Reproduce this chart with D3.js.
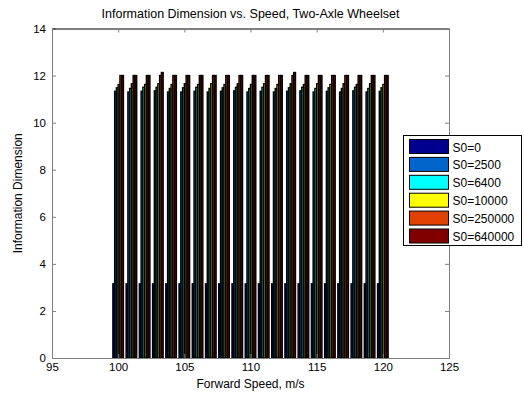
<!DOCTYPE html>
<html>
<head lang="en">
    <meta charset="UTF-8">
    <title>Information Dimension vs. Speed</title>
    <script src="https://cdnjs.cloudflare.com/ajax/libs/d3/7.8.5/d3.min.js" charset="utf-8"></script>
</head>

<body style="margin: 0; background: white">
<div id="chart"></div>
<script>

var speeds = d3.range(100, 121);
var seriesNames = ['S0=0', 'S0=2500', 'S0=6400', 'S0=10000', 'S0=250000', 'S0=640000'];
var seriesColors = ['#00008f', '#0066cc', '#00ffff', '#ffff00', '#e04000', '#800000'];

// values, one array per series (speeds 100..120)
var s0 = [3.15, 3.15, 3.15, 3.15, 3.15, 3.15, 3.15, 3.15, 3.15, 3.15, 3.15, 3.15, 3.15, 3.15, 3.15, 3.15, 3.15, 3.15, 3.15, 3.15, 3.15];
var s2500 = [11.33, 11.30, 11.33, 11.35, 11.30, 11.30, 11.33, 11.30, 11.33, 11.35, 11.30, 11.33, 11.30, 11.33, 11.35, 11.30, 11.33, 11.30, 11.35, 11.30, 11.33];
var s6400 = [11.48, 11.45, 11.50, 11.50, 11.45, 11.48, 11.50, 11.45, 11.48, 11.50, 11.45, 11.50, 11.45, 11.48, 11.50, 11.45, 11.48, 11.45, 11.50, 11.45, 11.48];
var s10000 = [11.62, 11.65, 11.62, 11.65, 11.62, 11.65, 11.62, 11.65, 11.62, 11.65, 11.62, 11.65, 11.62, 11.65, 11.62, 11.65, 11.62, 11.65, 11.62, 11.65, 11.62];
var s250000 = [12.0, 12.0, 12.0, 12.0, 12.0, 12.0, 12.0, 12.0, 12.0, 12.0, 12.0, 12.0, 12.0, 12.0, 12.0, 12.0, 12.0, 12.0, 12.0, 12.0, 12.0];
var s640000 = [12.0, 12.0, 12.0, 12.13, 12.0, 12.0, 12.0, 12.0, 12.0, 12.0, 12.0, 12.0, 12.0, 12.13, 12.0, 12.0, 12.0, 12.0, 12.0, 12.0, 12.0];
var series = [s0, s2500, s6400, s10000, s250000, s640000];

var xTicks = [95, 100, 105, 110, 115, 120, 125];
var yTicks = [0, 2, 4, 6, 8, 10, 12, 14];

var svgWidth = 524, svgHeight = 394;
var margin = {top: 28.5, bottom: 36, right: 75, left: 52};
var w = svgWidth - margin.left - margin.right;
var h = svgHeight - margin.top - margin.bottom;
var font = 'Arial, "Liberation Sans", sans-serif';

var svg = d3.select('#chart').append('svg')
    .attr('width', svgWidth)
    .attr('height', svgHeight)
    .style('font-family', font);

var g = svg.append('g').attr('transform', 'translate(' + margin.left + ',' + margin.top + ')');

var x = d3.scaleLinear().domain([95, 125]).range([0, w]);
var y = d3.scaleLinear().domain([0, 14]).range([h, 0]);

// grouped bars, MATLAB style: group width 0.8, thick black edges swallow most of the fill
var groupWidth = 0.8, n = series.length;
var barW = groupWidth / n;

series.forEach(function (vals, si) {
    g.append('g').selectAll('rect')
        .data(vals)
        .enter().append('rect')
        .attr('x', function (d, i) { return x(speeds[i] - groupWidth / 2 + si * barW); })
        .attr('width', x(95 + barW) - x(95))
        .attr('y', function (d) { return y(d); })
        .attr('height', function (d) { return h - y(d); })
        .attr('fill', seriesColors[si])
        .attr('stroke', 'black')
        .attr('stroke-width', 1.4);
});

// axes with inward ticks on all four sides
var xAxis = g.append('g').attr('transform', 'translate(0,' + h + ')')
    .call(d3.axisBottom(x).tickValues(xTicks).tickSizeInner(-4).tickSizeOuter(0).tickPadding(5));
var yAxis = g.append('g')
    .call(d3.axisLeft(y).tickValues(yTicks).tickSizeInner(-4).tickSizeOuter(0).tickPadding(6));
var xTop = g.append('g')
    .call(d3.axisTop(x).tickValues(xTicks).tickSizeInner(-4).tickSizeOuter(0).tickFormat(''));
var yRight = g.append('g').attr('transform', 'translate(' + w + ',0)')
    .call(d3.axisRight(y).tickValues(yTicks).tickSizeInner(-4).tickSizeOuter(0).tickFormat(''));

[xAxis, yAxis, xTop, yRight].forEach(function (a) {
    a.selectAll('text').attr('font-size', 11.5).attr('fill', '#000').style('font-family', font);
    a.select('.domain').attr('stroke', '#808080');
    a.selectAll('.tick line').attr('stroke', '#808080');
});
xTop.select('.domain').attr('stroke', '#000');

// titles
svg.append('text')
    .attr('x', margin.left + w / 2).attr('y', 18)
    .attr('text-anchor', 'middle').attr('font-size', 12.5)
    .text('Information Dimension vs. Speed, Two-Axle Wheelset');
svg.append('text')
    .attr('x', margin.left + w / 2).attr('y', 388)
    .attr('text-anchor', 'middle').attr('font-size', 12)
    .text('Forward Speed, m/s');
svg.append('text')
    .attr('transform', 'translate(22,' + (margin.top + h / 2) + ') rotate(-90)')
    .attr('text-anchor', 'middle').attr('font-size', 12)
    .text('Information Dimension');

// legend
var legend = svg.append('g').attr('transform', 'translate(403.5,135.5)');
legend.append('rect')
    .attr('width', 118).attr('height', 110)
    .attr('fill', 'white').attr('stroke', 'black');
var item = legend.selectAll('.item')
    .data(seriesNames)
    .enter().append('g')
    .attr('transform', function (d, i) { return 'translate(6,' + (4 + i * 17.9) + ')'; });
item.append('rect')
    .attr('width', 39).attr('height', 14)
    .attr('fill', function (d, i) { return seriesColors[i]; })
    .attr('stroke', 'black');
item.append('text')
    .attr('x', 43).attr('y', 12)
    .attr('font-size', 12)
    .text(function (d) { return d; });

</script>
</body>
</html>
